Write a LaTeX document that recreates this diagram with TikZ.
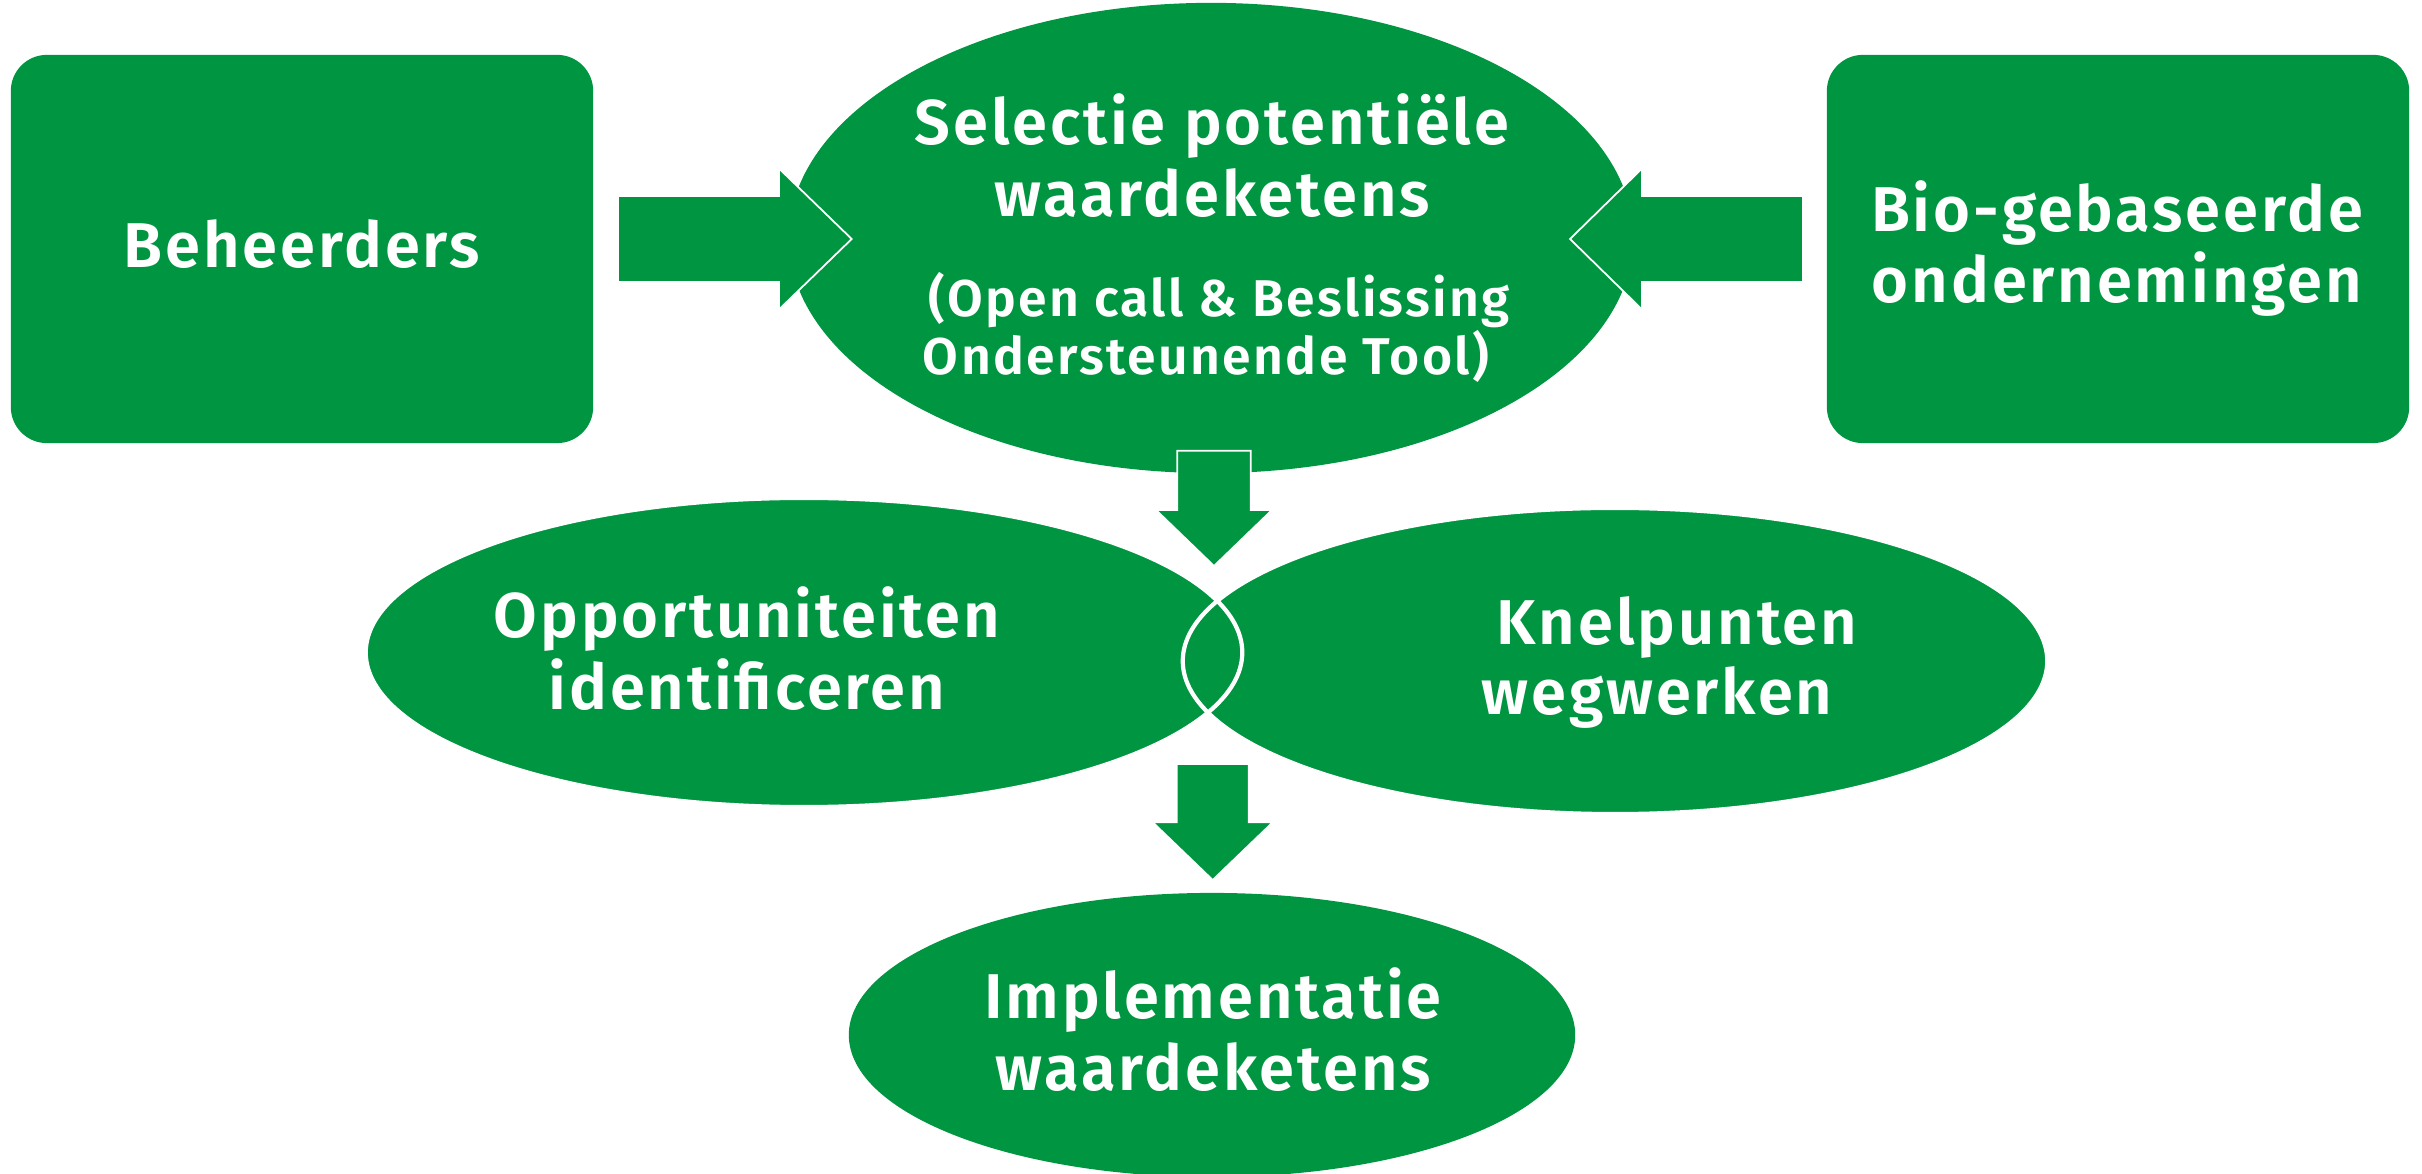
\documentclass[tikz,border=0pt]{standalone}
\usepackage{fontspec}
\IfFontExistsTF{Fira Sans SemiBold}
  {\setmainfont{Fira Sans}[LetterSpace=4.5,BoldFont={Fira Sans SemiBold}]}
  {\setmainfont{Fira Sans}[LetterSpace=3]}
\usetikzlibrary{shapes.geometric}
\definecolor{vgreen}{RGB}{0,149,64}
\begin{document}
\begin{tikzpicture}[x=0.01cm,y=-0.01cm,
  lbl/.style={text=white,font=\bfseries\fontsize{18}{21}\selectfont,inner sep=0,anchor=base},
  sub/.style={lbl,font=\bfseries\fontsize{14.7}{18}\selectfont},
  gbox/.style={fill=vgreen,draw=none,rounded corners=0.36cm,minimum width=5.82cm,minimum height=3.88cm,inner sep=0},
  gell/.style={ellipse,fill=vgreen,inner sep=0},
  ring/.style={ellipse,draw=white,line width=1.2pt,inner sep=0},
  barrow/.style={fill=vgreen,draw=white,line width=0.5pt}]
\useasboundingbox (0,0) rectangle (2422,1174);
% top ellipse and side boxes
\node[gell,minimum width=8.44cm,minimum height=4.70cm] (sel) at (1211,238) {};
\node[gbox] (beh) at (302,249) {};
\node[gbox] (bio) at (2118,249) {};
% horizontal block arrows
\draw[barrow] (618,196) -- (779,196) -- (779,168.5) -- (851.7,239) -- (779,309.5) -- (779,282) -- (618,282) -- cycle;
\draw[barrow] (1803,196) -- (1642,196) -- (1642,168.5) -- (1570,239) -- (1642,309.5) -- (1642,282) -- (1803,282) -- cycle;
% middle ellipses
\node[gell,minimum width=8.76cm,minimum height=3.09cm] (opp) at (804,652.5) {};
\node[gell,minimum width=8.64cm,minimum height=3.06cm] (kne) at (1615,661) {};
\node[ring,minimum width=8.76cm,minimum height=3.09cm] (oppring) at (opp) {};
\node[ring,minimum width=8.64cm,minimum height=3.06cm] (knering) at (kne) {};
% down arrows
\draw[barrow] (1177.3,450.7) -- (1250.7,450.7) -- (1250.7,510) -- (1272,510) -- (1214,566) -- (1156,510) -- (1177.3,510) -- cycle;
\node[gell,minimum width=7.26cm,minimum height=2.84cm] (imp) at (1212,1035) {};
\draw[barrow] (1176.7,764) -- (1248.7,764) -- (1248.7,822.3) -- (1272.7,822.3) -- (1212.7,880) -- (1152.7,822.3) -- (1176.7,822.3) -- cycle;
% texts
\node[lbl] (tbeh) at (302,268) {Beheerders};
\node[lbl] (tbio1) at (2117,232) {Bio-gebaseerde};
\node[lbl] (tbio2) at (2117,303) {ondernemingen};
\node[lbl] (tsel1) at (1212,145) {Selectie potentiële};
\node[lbl] (tsel2) at (1212,217) {waardeketens};
\node[sub] (tsel3) at (1219,317) {(Open call \& Beslissing};
\node[sub] (tsel4) at (1206,375) {Ondersteunende Tool)};
\node[lbl] (topp1) at (747,638) {Opportuniteiten};
\node[lbl] (topp2) at (747,710) {identificeren};
\node[lbl] (tkne1) at (1677,645) {Knelpunten};
\node[lbl] (tkne2) at (1657,715) {wegwerken};
\node[lbl] (timp1) at (1213,1018) {Implementatie};
\node[lbl] (timp2) at (1213,1090) {waardeketens};
\end{tikzpicture}
\end{document}
